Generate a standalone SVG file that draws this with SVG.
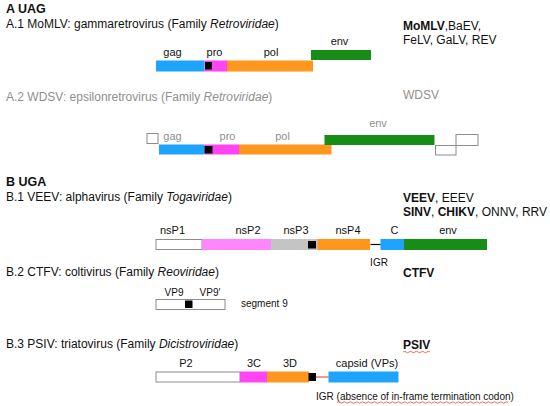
<svg xmlns="http://www.w3.org/2000/svg" width="550" height="406" viewBox="0 0 550 406">
<style>
text{font-family:"Liberation Sans",Arial,Helvetica,sans-serif;font-size:11px;fill:#111}
.t{font-size:12px}
.b{font-weight:bold}
.h{font-size:12.5px;font-weight:bold}
.s{font-size:10px}
.g{fill:#8f8f8f}
.lab{text-anchor:middle}
.i{font-style:italic}
.blue{fill:#1ea4ff}
.mag{fill:#ff44f5}
.pink{fill:#ff86ff}
.org{fill:#ff961e}
.grn{fill:#178c17}
.gry{fill:#c4c4c4}
.blk{fill:#000}
.wb{fill:#fff;stroke:#8c8c8c;stroke-width:1}
.sq{fill:none;stroke:#e8574c;stroke-width:0.9}
</style>
<rect width="550" height="406" fill="#fff"/>

<text class="h" x="6" y="13">A UAG</text>
<text class="t" x="6" y="27.5">A.1 MoMLV: gammaretrovirus (Family <tspan class="i">Retroviridae</tspan>)</text>
<text class="t" x="403" y="29.5"><tspan class="b">MoMLV</tspan>,BaEV,</text>
<text class="t" x="403" y="44">FeLV, GaLV, REV</text>

<g id="momlv">
<rect class="blue" x="156" y="60.5" width="48.5" height="11"/>
<rect class="mag" x="204.5" y="60.5" width="22.5" height="11"/>
<rect class="org" x="227" y="60.5" width="86" height="11"/>
<rect class="blk" x="205" y="62" width="7" height="7.5"/>
<rect class="grn" x="311" y="50" width="60" height="10"/>
<text class="lab" x="172.5" y="55.5">gag</text>
<text class="lab" x="214.5" y="55.5">pro</text>
<text class="lab" x="271" y="55.5">pol</text>
<text class="lab" x="339.5" y="45">env</text>
</g>

<text class="t g" x="6" y="101">A.2 WDSV: epsilonretrovirus (Family <tspan class="i">Retroviridae</tspan>)</text>
<text class="t g" x="403" y="99">WDSV</text>

<g id="wdsv">
<rect class="wb" x="147" y="133.5" width="11" height="10"/>
<rect class="blue" x="159" y="144.5" width="45.5" height="10"/>
<rect class="mag" x="204.5" y="144.5" width="34.5" height="10"/>
<rect class="org" x="239" y="144.5" width="92.5" height="10"/>
<rect class="blk" x="204.5" y="146" width="8" height="7.5"/>
<rect class="grn" x="324.5" y="135" width="110" height="10"/>
<rect class="wb" x="435.5" y="145.5" width="20.5" height="9.5"/>
<rect class="wb" x="456" y="134.5" width="22" height="11"/>
<text class="lab g" x="172.5" y="140">gag</text>
<text class="lab g" x="227.5" y="140">pro</text>
<text class="lab g" x="282.5" y="140">pol</text>
<text class="lab g" x="378" y="127">env</text>
</g>

<text class="h" x="6" y="186">B UGA</text>
<text class="t" x="6" y="201">B.1 VEEV: alphavirus (Family <tspan class="i">Togaviridae</tspan>)</text>
<text class="t" x="403" y="201.5"><tspan class="b">VEEV</tspan>, EEEV</text>
<text class="t" x="403" y="215.5"><tspan class="b">SINV</tspan>, <tspan class="b">CHIKV</tspan>, ONNV, RRV</text>

<g id="veev">
<rect class="wb" x="156" y="239.5" width="46" height="10"/>
<rect class="pink" x="202" y="239" width="69" height="11"/>
<rect class="gry" x="271" y="239" width="47" height="11"/>
<rect class="blk" x="308" y="241" width="8" height="7.5"/>
<rect class="org" x="317.5" y="239" width="52.5" height="11"/>
<rect class="blue" x="380.5" y="239" width="23.5" height="11"/>
<rect class="grn" x="404" y="239" width="83" height="11"/>
<text class="lab" x="172.5" y="234">nsP1</text>
<text class="lab" x="248" y="234">nsP2</text>
<text class="lab" x="296" y="234">nsP3</text>
<text class="lab" x="348" y="234">nsP4</text>
<text class="lab" x="394.5" y="234">C</text>
<text class="lab" x="448" y="234">env</text>
<text class="lab s" x="379" y="265.5">IGR</text>
</g>

<text class="t" x="6" y="276">B.2 CTFV: coltivirus (Family <tspan class="i">Reoviridae</tspan>)</text>
<text class="t b" x="403" y="277">CTFV</text>

<g id="ctfv">
<rect class="wb" x="156" y="299.5" width="69" height="10"/>
<rect class="blk" x="185" y="300.5" width="7.5" height="7.5"/>
<text class="lab s" x="174" y="296">VP9</text>
<text class="lab s" x="210" y="296">VP9′</text>
<text class="s" x="241" y="307">segment 9</text>
</g>

<text class="t" x="6" y="348">B.3 PSIV: triatovirus (Family <tspan class="i">Dicistroviridae</tspan>)</text>
<text class="t b" x="403" y="348.5">PSIV</text>

<g id="psiv">
<rect class="wb" x="156" y="372" width="84" height="10"/>
<rect class="mag" x="240" y="371.5" width="27" height="11"/>
<rect class="org" x="267" y="371.5" width="42" height="11"/>
<rect class="blk" x="308.5" y="373" width="7.5" height="8"/>
<rect class="blue" x="328.5" y="371.5" width="70" height="11"/>
<text class="lab" x="186" y="366.5">P2</text>
<text class="lab" x="254" y="366.5">3C</text>
<text class="lab" x="290" y="366.5">3D</text>
<text class="lab" x="367" y="366.5">capsid (VPs)</text>
<text class="s" x="316" y="399.5">IGR (absence of in-frame termination codon)</text>
</g>

<g id="connectors">
<line x1="370.5" y1="244.5" x2="380.5" y2="244.5" stroke="#000" stroke-width="1.2"/>
<line x1="316" y1="377" x2="328.5" y2="377" stroke="#e8574c" stroke-width="1.2"/>
</g>

<g id="spellmarks">
<path class="sq" d="M403 352 q1.5 -1.5 3 0 t3 0 t3 0 t3 0 t3 0 t3 0 t3 0 t3 0 t3 0"/>
<path class="sq" d="M337 402.5 q1.5 -1.5 3 0 t3 0 t3 0 t3 0 t3 0 t3 0 t3 0 t3 0 t3 0 t3 0 t3 0 t3 0 t3 0 t3 0 t3 0 t3 0 t3 0 t3 0 t3 0 t3 0 t3 0 t3 0 t3 0 t3 0 t3 0 t3 0 t3 0 t3 0 t3 0 t3 0 t3 0 t3 0 t3 0 t3 0 t3 0 t3 0 t3 0 t3 0 t3 0 t3 0 t3 0 t3 0 t3 0 t3 0 t3 0 t3 0 t3 0 t3 0 t3 0 t3 0 t3 0 t3 0 t3 0 t3 0 t3 0 t3 0 t3 0"/>
</g>
</svg>
